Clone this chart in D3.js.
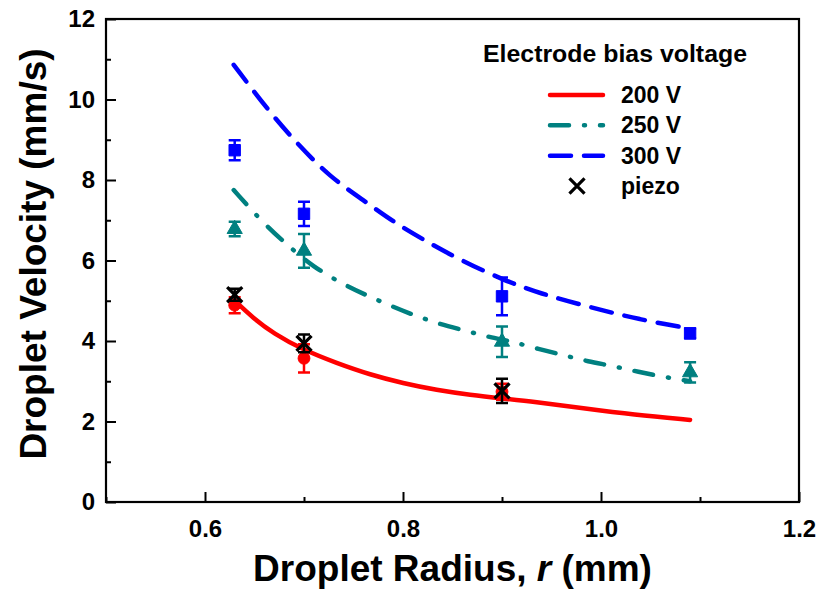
<!DOCTYPE html>
<html>
<meta http-equiv="content-type" content="text/html; charset=utf-8" />
<head>
    <title>Droplet Velocity</title>
</head>

<style>
body { margin: 0; background: #fff; }
text {
  font-family: "Liberation Sans", Arial, sans-serif;
  font-weight: bold;
  fill: #000;
}
.axis text { font-size: 24px; }
.axis line { stroke: #000; stroke-width: 2px; }
.axis path { display: none; }
</style>

<body>
<svg class="chart"></svg>
<script src="https://cdnjs.cloudflare.com/ajax/libs/d3/7.8.5/d3.min.js"></script>

<script type="text/javascript">
// measured droplet radius (mm)
var radius = [0.63, 0.70, 0.90, 1.09];

// droplet velocity (mm/s) and error, per bias voltage
var v200 = [4.89, 3.57, 2.74, null];
var err200 = [0.2, 0.35, 0.2, null];
var v250 = [6.78, 6.24, 3.98, 3.22];
var err250 = [0.18, 0.42, 0.38, 0.25];
var v300 = [8.74, 7.16, 5.11, 4.19];
var err300 = [0.25, 0.3, 0.47, 0.12];

var piezoR = [0.63, 0.70, 0.90];
var piezoV = [5.15, 3.94, 2.76];
var piezoErr = [0.15, 0.22, 0.3];

// model curves
var fitR200 = [0.63, 0.649, 0.669, 0.699, 0.733, 0.767, 0.80, 0.834, 0.868, 0.901, 0.932, 0.982, 1.033, 1.09];
var fit200 = [5.0, 4.56, 4.19, 3.78, 3.45, 3.16, 2.95, 2.78, 2.66, 2.57, 2.49, 2.33, 2.17, 2.04];
var fitR250 = [0.629, 0.659, 0.689, 0.709, 0.738, 0.76, 0.787, 0.81, 0.837, 0.861, 0.888, 0.911, 0.937, 0.962, 0.987, 1.012, 1.038, 1.063, 1.09];
var fit250 = [7.75, 6.92, 6.26, 5.85, 5.43, 5.17, 4.88, 4.65, 4.42, 4.27, 4.09, 3.98, 3.8, 3.65, 3.49, 3.38, 3.23, 3.11, 3.0];
var fitR300 = [0.629, 0.666, 0.696, 0.726, 0.76, 0.79, 0.824, 0.858, 0.901, 0.938, 0.989, 1.039, 1.09];
var fit300 = [10.86, 9.66, 8.83, 8.08, 7.5, 6.96, 6.47, 6.01, 5.52, 5.18, 4.84, 4.53, 4.31];

var xTicks = [0.6, 0.8, 1.0, 1.2];
var xMinor = [0.5, 0.7, 0.9, 1.1];
var yTicks = [0, 2, 4, 6, 8, 10, 12];
var yMinor = [1, 3, 5, 7, 9, 11];

var legendItems = ["200 V", "250 V", "300 V", "piezo"];

var width = 822, height = 592;
var margin = {top: 19, right: 23, bottom: 90, left: 106};
var plotW = width - margin.left - margin.right,
    plotH = height - margin.top - margin.bottom;

var red = "#ff0000", teal = "#008080", blue = "#0000ff";
var dash250 = "19,15,1,15", dash300 = "21,13";

var xScale = d3.scaleLinear().domain([0.5, 1.2]).range([0, plotW]);
var yScale = d3.scaleLinear().domain([0, 12]).range([plotH, 0]);

var svg = d3.select(".chart")
    .attr("width", width)
    .attr("height", height);

var chart = svg.append("g")
    .attr("transform", "translate(" + margin.left + "," + margin.top + ")");

// axes, ticks pointing in
chart.append("g")
    .attr("class", "x axis")
    .attr("transform", "translate(0," + plotH + ")")
    .call(d3.axisBottom(xScale).tickValues(xTicks).tickSize(-10).tickPadding(18)
      .tickFormat(d3.format(".1f")));
chart.append("g")
    .attr("class", "x axis")
    .attr("transform", "translate(0," + plotH + ")")
    .call(d3.axisBottom(xScale).tickValues(xMinor).tickSize(-5).tickFormat(""));
chart.append("g")
    .attr("class", "y axis")
    .call(d3.axisLeft(yScale).tickValues(yTicks).tickSize(-10).tickPadding(11));
chart.append("g")
    .attr("class", "y axis")
    .call(d3.axisLeft(yScale).tickValues(yMinor).tickSize(-5).tickFormat(""));

chart.append("rect")
    .attr("width", plotW)
    .attr("height", plotH)
    .attr("fill", "none")
    .attr("stroke", "#000")
    .attr("stroke-width", 2.2);

// axis titles
svg.append("text")
    .attr("x", margin.left + plotW / 2)
    .attr("y", 581)
    .attr("text-anchor", "middle")
    .style("font-size", "37px")
    .call(function(t) {
      t.append("tspan").text("Droplet Radius, ");
      t.append("tspan").style("font-style", "italic").text("r");
      t.append("tspan").text(" (mm)");
    });

svg.append("text")
    .attr("transform", "translate(46,254) rotate(-90)")
    .attr("text-anchor", "middle")
    .style("font-size", "37px")
    .text("Droplet Velocity (mm/s)");

// fitted curves
function curve(xs, ys, color, dash) {
  var pts = xs.map(function(x, i) { return [x, ys[i]]; });
  chart.append("path")
    .datum(pts)
    .attr("fill", "none")
    .attr("stroke", color)
    .attr("stroke-width", 4.5)
    .attr("stroke-linecap", "round")
    .attr("stroke-dasharray", dash)
    .attr("d", d3.line()
      .curve(d3.curveBasis)
      .x(function(d) { return xScale(d[0]); })
      .y(function(d) { return yScale(d[1]); }));
}

// data points with error bars
function points(xs, ys, errs, color, symbol, size, strokeOnly) {
  var data = xs.map(function(x, i) { return {x: x, y: ys[i], e: errs[i]}; })
    .filter(function(d) { return d.y != null; });

  var g = chart.append("g").selectAll("g")
    .data(data).enter()
    .append("g")
    .attr("transform", function(d) { return "translate(" + xScale(d.x) + "," + yScale(d.y) + ")"; });

  g.append("path")
    .attr("stroke", color)
    .attr("stroke-width", 2.5)
    .attr("fill", "none")
    .attr("d", function(d) {
      var t = yScale(d.y + d.e) - yScale(d.y), b = yScale(d.y - d.e) - yScale(d.y);
      return "M0," + t + "V" + b + "M-6," + t + "H6M-6," + b + "H6";
    });

  g.append("path")
    .attr("d", d3.symbol(symbol, size))
    .attr("fill", strokeOnly ? "none" : color)
    .attr("stroke", color)
    .attr("stroke-width", strokeOnly ? 3.2 : 1);
}

curve(fitR300, fit300, blue, dash300);
curve(fitR250, fit250, teal, dash250);
curve(fitR200, fit200, red, null);

points(radius, v300, err300, blue, d3.symbolSquare, 130);
points(radius, v250, err250, teal, d3.symbolTriangle, 100);
points(radius, v200, err200, red, d3.symbolCircle, 110);
points(piezoR, piezoV, piezoErr, "#000", d3.symbolX, 150, true);

// legend
var legend = svg.append("g").attr("transform", "translate(483,0)");
legend.append("text")
    .attr("x", 0)
    .attr("y", 62)
    .attr("textLength", 264)
    .attr("lengthAdjust", "spacingAndGlyphs")
    .style("font-size", "23px")
    .text("Electrode bias voltage");

var legendY = d3.scalePoint().domain(legendItems).range([95, 186]);
var legendStyle = [[red, null], [teal, dash250], [blue, dash300]];

legend.selectAll(".lline")
    .data(legendItems.slice(0, 3)).enter()
    .append("line")
    .attr("x1", 67).attr("x2", 120)
    .attr("y1", function(d) { return legendY(d); })
    .attr("y2", function(d) { return legendY(d); })
    .attr("stroke", function(d, i) { return legendStyle[i][0]; })
    .attr("stroke-dasharray", function(d, i) { return legendStyle[i][1]; })
    .attr("stroke-linecap", "round")
    .attr("stroke-width", 4.5);

legend.append("path")
    .attr("transform", "translate(94," + legendY("piezo") + ")")
    .attr("d", d3.symbol(d3.symbolX, 150))
    .attr("stroke", "#000")
    .attr("stroke-width", 3.2);

legend.selectAll(".ltext")
    .data(legendItems).enter()
    .append("text")
    .attr("x", 138)
    .attr("y", function(d) { return legendY(d) + 8; })
    .style("font-size", "23px")
    .text(function(d) { return d; });
</script>
</body>
</html>
